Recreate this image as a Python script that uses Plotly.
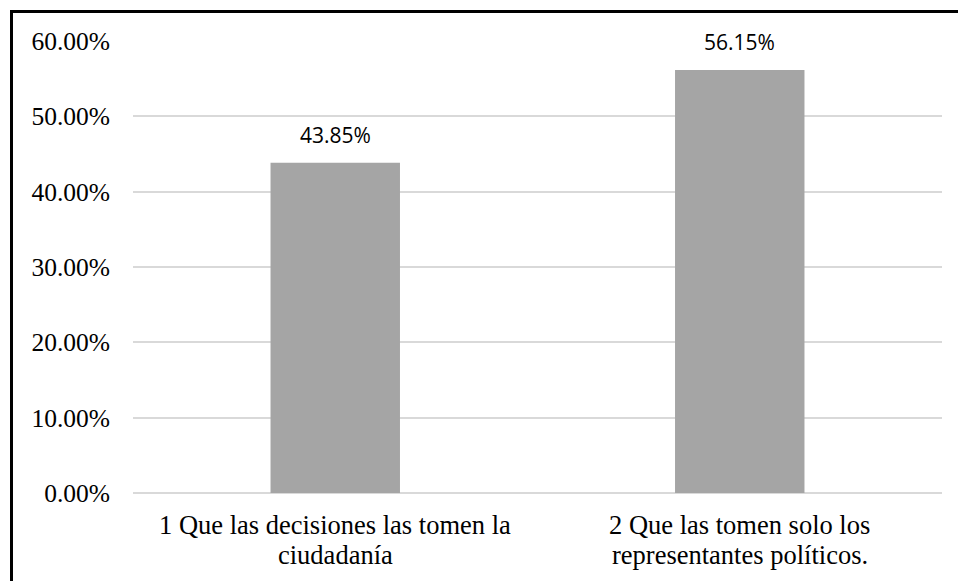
import plotly.graph_objects as go

categories = ["1 Que las decisiones las tomen la<br>ciudadanía",
              "2 Que las tomen solo los<br>representantes políticos."]
values = [43.85, 56.15]
labels = ["43.85%", "56.15%"]
tick_vals = [0, 10, 20, 30, 40, 50, 60]
tick_text = ["0.00%", "10.00%", "20.00%", "30.00%", "40.00%", "50.00%", "60.00%"]

W, H = 958, 581
L, R, T, B = 133, 16, 41, 88
ph = H - T - B
pw = W - L - R

def py(pix):
    return (H - B - pix) / ph

def px(pix):
    return (pix - L) / pw

fig = go.Figure()
fig.add_trace(go.Bar(
    x=categories, y=values,
    marker=dict(color="#A5A5A5", line=dict(width=0)),
    cliponaxis=False, hoverinfo="skip",
))

annotations = []
for c, v, lab in zip(categories, values, labels):
    annotations.append(dict(
        x=c, y=v, xref="x", yref="y", text=lab, showarrow=False,
        xanchor="center", yanchor="bottom", yshift=12,
        font=dict(family="Open Sans", size=21, color="#000000"),
    ))
    for i, line in enumerate(c.split("<br>")):
        annotations.append(dict(
            x=c, y=py(525 + i * 29.5), xref="x", yref="paper", text=line,
            showarrow=False, xanchor="center", yanchor="middle",
            font=dict(family="Liberation Serif", size=26.5, color="#000000"),
        ))

fig.update_layout(
    width=W, height=H,
    margin=dict(l=L, r=R, t=T, b=B),
    paper_bgcolor="white", plot_bgcolor="white",
    bargap=0.68,
    showlegend=False,
    font=dict(family="Liberation Serif", size=25.5, color="#000000"),
    annotations=annotations,
)
fig.update_yaxes(
    range=[0, 60], tickvals=tick_vals, ticktext=tick_text,
    showgrid=True, gridcolor="#D9D9D9", gridwidth=1.5,
    zeroline=True, zerolinecolor="#D9D9D9", zerolinewidth=1.5,
    showline=False, ticks="", ticklabelstandoff=22,
    tickfont=dict(family="Liberation Serif", size=25.5),
)
fig.update_xaxes(
    showgrid=False, showline=False, ticks="", showticklabels=False,
)
fig.add_shape(type="rect", xref="paper", yref="paper",
              x0=px(11.5), x1=px(975), y0=py(600), y1=py(11.5),
              line=dict(color="black", width=3), fillcolor="rgba(0,0,0,0)",
              layer="above")

fig.write_html("out.html", config={"displayModeBar": False},
               post_script="document.body.style.margin='0';")
